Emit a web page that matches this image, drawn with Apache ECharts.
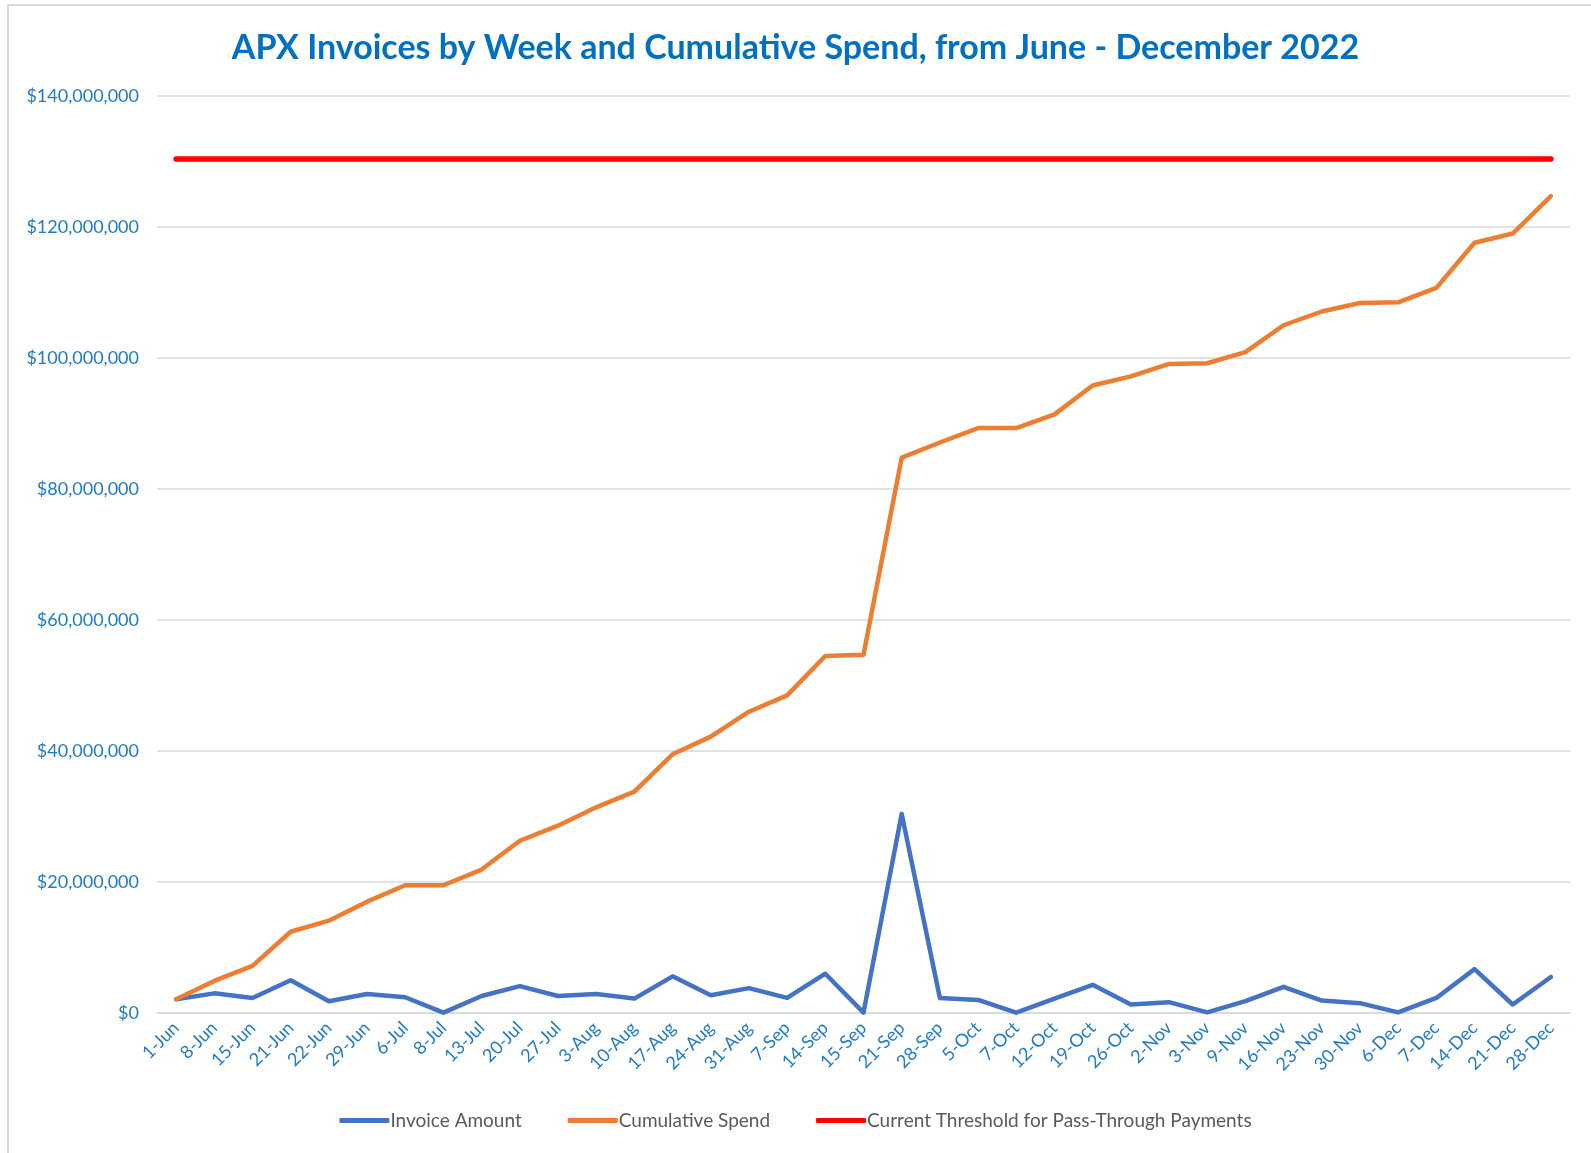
<!DOCTYPE html>
<html>
<head>
<meta charset="utf-8">
<script src="https://cdn.jsdelivr.net/npm/echarts@6/dist/echarts.min.js"></script>
<style>
  html, body { margin: 0; padding: 0; background: #fff; }
  #frame { position: absolute; left: 7px; top: 4px; width: 1600px; height: 1160px;
           border-left: 2px solid #d9d9d9; border-top: 2px solid #d9d9d9; pointer-events: none; }
  #main { position: absolute; left: 0; top: 0; width: 1591px; height: 1153px; }
</style>
</head>
<body>
<div id="main"></div>
<div id="frame"></div>
<script>
// week labels
var weeks = ['1-Jun','8-Jun','15-Jun','21-Jun','22-Jun','29-Jun','6-Jul','8-Jul','13-Jul','20-Jul',
  '27-Jul','3-Aug','10-Aug','17-Aug','24-Aug','31-Aug','7-Sep','14-Sep','15-Sep','21-Sep',
  '28-Sep','5-Oct','7-Oct','12-Oct','19-Oct','26-Oct','2-Nov','3-Nov','9-Nov','16-Nov',
  '23-Nov','30-Nov','6-Dec','7-Dec','14-Dec','21-Dec','28-Dec'];

// invoice amount per week ($)
var invoiceAmount = [2100000,3000000,2300000,5000000,1800000,2900000,2400000,50000,2600000,4100000,
  2600000,2900000,2200000,5600000,2700000,3800000,2300000,6000000,50000,30400000,
  2300000,2000000,50000,2200000,4300000,1300000,1650000,100000,1800000,4000000,
  1900000,1500000,100000,2300000,6700000,1300000,5500000];

// running total ($)
var cumulativeSpend = [2100000,4900000,7200000,12400000,14100000,17000000,19500000,19500000,21900000,26300000,
  28600000,31400000,33800000,39500000,42200000,46000000,48500000,54500000,54700000,84800000,
  87100000,89300000,89300000,91400000,95800000,97200000,99100000,99200000,100900000,105000000,
  107100000,108400000,108500000,110700000,117600000,119000000,124700000];

var threshold = 130400000;
var thresholdLine = weeks.map(function(){ return threshold; });

var yTicks = [0, 20000000, 40000000, 60000000, 80000000, 100000000, 120000000, 140000000];

var FONT = 'Lato, "Liberation Sans", sans-serif';
var BLUE_TEXT = '#1f7bc8';

var chart = echarts.init(document.getElementById('main'));
chart.setOption({
  animation: false,
  title: {
    text: 'APX Invoices by Week and Cumulative Spend, from June - December 2022',
    left: 'center',
    top: 26,
    textStyle: { color: '#0070c0', fontSize: 34, fontWeight: 'bold', fontFamily: FONT }
  },
  legend: {
    bottom: 18,
    left: 'center',
    icon: 'roundRect',
    itemWidth: 50,
    itemHeight: 5,
    itemGap: 46,
    textStyle: { color: '#595959', fontSize: 19, fontFamily: FONT, padding: [0, 0, 0, -4] },
    data: ['Invoice Amount', 'Cumulative Spend', 'Current Threshold for Pass-Through Payments']
  },
  grid: { left: 157, right: 21, top: 96, bottom: 140, containLabel: false },
  xAxis: {
    type: 'category',
    data: weeks,
    boundaryGap: true,
    axisTick: { show: false },
    axisLine: { lineStyle: { color: '#d9d9d9', width: 1.5 } },
    axisLabel: { interval: 0, rotate: 45, color: BLUE_TEXT, fontSize: 18, fontFamily: FONT, margin: 12 }
  },
  yAxis: {
    type: 'value',
    min: yTicks[0],
    max: yTicks[yTicks.length - 1],
    interval: yTicks[1] - yTicks[0],
    axisLine: { show: false },
    axisTick: { show: false },
    splitLine: { lineStyle: { color: '#d9d9d9', width: 1.5 } },
    axisLabel: {
      color: BLUE_TEXT, fontSize: 18, fontFamily: FONT, margin: 18,
      formatter: function(v){ return '$' + v.toLocaleString('en-US'); }
    }
  },
  series: [
    {
      name: 'Invoice Amount', type: 'line', data: invoiceAmount, symbol: 'none',
      itemStyle: { color: '#4472c4' },
      lineStyle: { color: '#4472c4', width: 4.5, cap: 'round', join: 'round' }
    },
    {
      name: 'Cumulative Spend', type: 'line', data: cumulativeSpend, symbol: 'none',
      itemStyle: { color: '#ed7d31' },
      lineStyle: { color: '#ed7d31', width: 4.5, cap: 'round', join: 'round' }
    },
    {
      name: 'Current Threshold for Pass-Through Payments', type: 'line', data: thresholdLine, symbol: 'none',
      itemStyle: { color: '#ff0000' },
      lineStyle: { color: '#ff0000', width: 5.5, cap: 'round' }
    }
  ]
});
</script>
</body>
</html>
